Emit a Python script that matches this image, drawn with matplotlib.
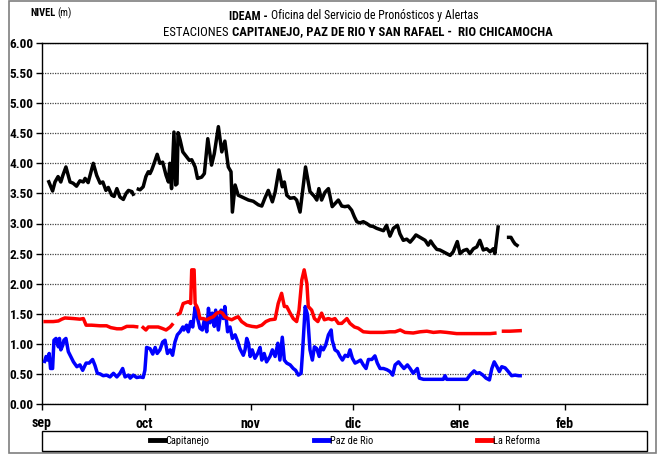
import numpy as np
import matplotlib
matplotlib.use("Agg")
import matplotlib.pyplot as plt
from matplotlib.patches import Rectangle
from matplotlib.lines import Line2D
from matplotlib import font_manager

# ---------------- data (day offset from 1 Sep, level in m) ----------------
months = ["sep", "oct", "nov", "dic", "ene", "feb"]
month_days = [0, 30, 61, 91, 122, 153]

cap_day = [1.8, 3.1, 3.8, 4.7, 5.5, 6.1, 7.0, 8.2, 9.1, 10.1, 11.1, 12.1, 12.6, 13.5, 15.0, 16.0,
           17.0, 17.8, 18.7, 19.4, 20.4, 21.1, 21.9, 22.8, 23.8, 24.6, 25.3, 26.3, 26.9, 27.3,
           27.7, 28.7, 29.6, 30.4, 31.1, 31.6, 32.1, 32.8, 33.7, 34.5, 35.3, 36.3, 37.0, 37.4,
           37.9, 38.6, 39.1, 39.5, 39.8, 40.4, 41.2, 42.3, 43.1, 43.8, 44.8, 45.5, 46.7, 47.5,
           48.5, 49.6, 50.4, 51.6, 52.6, 53.5, 54.5, 55.3, 55.7, 56.5, 57.4, 58.9, 60.4, 61.8,
           63.3, 64.3, 65.2, 66.2, 67.4, 68.2, 69.3, 70.3, 70.9, 71.6, 72.6, 73.8, 74.5, 75.5,
           77.1, 78.4, 79.7, 80.4, 81.0, 81.8, 82.8, 83.8, 84.9, 85.7, 86.7, 87.7, 88.6, 89.6,
           90.6, 91.4, 92.1, 93.0, 94.0, 95.0, 96.0, 96.9, 97.9, 98.9, 99.9, 100.8, 101.8, 102.8,
           104.0, 104.7, 105.7, 106.7, 107.7, 108.6, 109.4, 110.6, 112.1, 113.0, 113.7, 114.5,
           115.5, 116.4, 117.4, 118.4, 119.4, 120.3, 121.5, 122.3, 123.3, 124.3, 125.2, 126.2,
           127.2, 128.1, 129.1, 130.1, 131.1, 132.0, 132.5, 133.5, 134.5, 136.0, 137.2, 137.9,
           138.4, 139.4]
cap_val = [3.72, 3.54, 3.69, 3.78, 3.69, 3.80, 3.94, 3.69, 3.67, 3.62, 3.71, 3.69, 3.75, 3.68, 4.00, 3.80,
           3.67, 3.69, 3.55, 3.60, 3.47, 3.45, 3.58, 3.44, 3.40, 3.50, 3.55, 3.53, 3.46, np.nan,
           3.58, 3.56, 3.61, 3.78, 3.86, 3.83, 3.89, 4.00, 4.15, 4.00, 4.02, 3.80, 3.69, 4.00,
           3.58, 4.52, 3.64, 3.66, 4.51, 4.39, 4.19, 4.11, 4.05, 4.06, 3.94, 3.75, 3.77, 3.83,
           4.41, 3.97, 4.16, 4.61, 4.19, 4.37, 3.94, 3.86, 3.19, 3.64, 3.47, 3.43, 3.39, 3.37,
           3.31, 3.29, 3.42, 3.55, 3.36, 3.52, 3.89, 3.61, 3.69, 3.47, 3.42, 3.43, 3.39, 3.19,
           3.94, 3.53, 3.45, 3.39, 3.58, 3.39, 3.52, 3.58, 3.28, 3.33, 3.39, 3.29, 3.28, 3.29,
           3.22, 3.11, 3.03, 3.01, 3.03, 3.00, 2.96, 2.95, 2.92, 2.90, 2.88, 2.97, 2.79, 2.92,
           2.97, 2.83, 2.72, 2.74, 2.69, 2.75, 2.81, 2.77, 2.72, 2.64, 2.71, 2.64,
           2.57, 2.56, 2.53, 2.50, 2.47, 2.53, 2.70, 2.50, 2.55, 2.57, 2.50, 2.58,
           2.61, 2.72, 2.56, 2.58, 2.53, 2.58, 2.50, 2.97, np.nan, 2.77, 2.77, 2.70,
           2.66, 2.62]

paz_day = [0.6, 1.2, 1.6, 2.1, 2.5, 3.1, 3.5, 4.1, 4.8, 5.1, 5.5, 6.1, 6.4, 7.0, 7.7, 8.4, 9.2, 10.2,
           11.1, 11.9, 12.9, 13.8, 14.8, 15.5, 16.2, 17.0, 17.9, 18.9, 19.9, 20.9, 21.9, 22.8, 23.6,
           24.3, 25.3, 25.8, 26.7, 27.7, 28.7, 29.6, 30.1, 30.6, 31.6, 32.4, 33.1, 33.7, 34.5, 35.3,
           36.0, 36.7, 37.5, 38.2, 38.9, 39.6, 40.4, 41.2, 41.5, 42.3, 42.8, 43.5, 44.1, 44.8, 45.4,
           46.2, 46.9, 47.5, 48.2, 48.7, 49.2, 49.8, 50.4, 50.8, 51.6, 52.4, 53.0, 53.5, 54.3, 55.0,
           55.7, 56.5, 57.3, 57.9, 58.9, 59.4, 59.9, 60.4, 60.9, 61.5, 62.3, 63.1, 63.8, 64.3, 65.0,
           65.7, 66.7, 67.4, 68.2, 69.0, 69.6, 70.3, 70.9, 71.6, 72.6, 73.5, 74.2, 75.0, 75.8, 76.2,
           77.0, 77.7, 78.4, 79.1, 79.7, 80.4, 81.1, 81.6, 82.3, 83.0, 83.8, 84.6, 84.9, 85.7, 86.5,
           87.2, 87.9, 88.7, 89.5, 90.1, 90.8, 91.6, 92.3, 93.2, 94.0, 94.8, 95.5, 96.5, 97.4, 98.1,
           98.9, 99.9, 100.9, 101.8, 102.6, 103.3, 104.3, 105.0, 105.9, 106.9, 107.7, 108.6, 109.8,
           110.4, 111.6, 117.4, 117.9, 118.4, 124.3, 125.2, 126.4, 127.2, 128.0, 129.0, 129.9, 130.9,
           131.6, 132.3, 133.1, 133.8, 134.5, 135.5, 136.4, 137.4, 138.4, 139.4, 140.4]
paz_val = [0.68, 0.79, 0.73, 0.84, 0.59, 0.59, 1.06, 1.09, 0.95, 1.09, 0.90, 0.98, 1.06, 1.09, 0.87, 0.79, 0.70, 0.62,
           0.65, 0.56, 0.68, 0.68, 0.74, 0.64, 0.51, 0.50, 0.47, 0.48, 0.45, 0.51, 0.45, 0.51, 0.59,
           0.45, 0.48, 0.43, 0.48, 0.44, 0.45, 0.44, 0.56, 0.94, 0.92, 0.83, 0.94, 0.84, 0.90, 1.03,
           1.06, 0.84, 0.90, 0.81, 1.03, 1.15, 1.20, 1.28, 1.23, 1.31, 1.20, 1.37, 1.28, 1.61, 1.45,
           1.26, 1.23, 1.40, 1.20, 1.59, 1.35, 1.51, 1.29, 1.56, 1.23, 1.56, 1.42, 1.62, 1.20, 1.28,
           1.09, 1.15, 1.03, 0.92, 0.81, 0.90, 1.09, 1.01, 0.79, 0.90, 0.76, 0.84, 0.94, 0.73, 0.84,
           0.70, 0.79, 0.90, 0.79, 1.01, 0.73, 1.11, 0.73, 0.68, 0.65, 0.59, 0.56, 0.48, 0.51, 0.84,
           1.62, 1.48, 0.90, 0.73, 0.95, 0.92, 0.79, 0.95, 0.90, 0.98, 1.15, 1.23, 1.06, 0.90, 0.87,
           0.79, 0.73, 0.81, 0.79, 0.90, 0.76, 0.68, 0.70, 0.73, 0.65, 0.59, 0.74, 0.74, 0.80, 0.68,
           0.59, 0.59, 0.57, 0.54, 0.48, 0.65, 0.70, 0.65, 0.59, 0.65, 0.59, 0.51, 0.59,
           0.43, 0.41, 0.41, 0.47, 0.41, 0.41, 0.48, 0.55, 0.51, 0.52, 0.48, 0.43, 0.40,
           0.59, 0.70, 0.62, 0.54, 0.62, 0.60, 0.54, 0.47, 0.48, 0.47, 0.47]

ref_day = [0.4, 3.3, 4.8, 5.8, 6.7, 9.2, 11.1, 12.1, 12.9, 14.5, 17.0, 18.9, 20.1, 21.9, 23.3, 24.8,
           26.7, 28.2, 28.7, 29.2, 30.4, 31.1, 32.6, 34.0, 35.0, 36.3, 37.5, 38.4, 38.9, 39.4, 40.4,
           41.3, 42.8, 43.5, 43.8, 44.5, 44.8, 45.3, 45.7, 46.2, 47.2, 48.2, 49.2, 50.1, 51.1, 52.1,
           52.8, 53.5, 54.5, 55.5, 56.5, 57.4, 58.4, 59.9, 61.4, 62.8, 64.3, 65.5, 66.7, 68.2, 69.1,
           70.1, 70.9, 71.6, 72.6, 73.5, 74.5, 75.2, 76.0, 76.7, 77.5, 77.9, 78.9, 79.7, 80.7, 81.8,
           82.6, 83.8, 84.8, 85.7, 86.7, 87.7, 89.2, 90.1, 91.4, 92.5, 93.0, 94.0, 96.0, 97.9, 99.9,
           101.8, 103.3, 104.8, 106.2, 108.6, 110.6, 112.6, 114.5, 116.5, 118.4, 121.3, 125.2, 128.1,
           131.1, 133.0, 133.7, 134.5, 136.9, 140.4]
ref_val = [1.37, 1.37, 1.38, 1.41, 1.43, 1.42, 1.41, 1.42, 1.31, 1.31, 1.30, 1.30, 1.27, 1.25, 1.25, 1.29,
           1.29, 1.28, np.nan, 1.29, 1.23, 1.28, 1.28, 1.28, 1.26, 1.23, 1.28, 1.34, np.nan, 1.48, 1.51,
           1.67, 1.70, 1.67, 2.23, 2.23, 1.67, 1.62, 1.56, 1.42, 1.42, 1.40, 1.43, 1.45, 1.51, 1.53,
           1.51, 1.45, 1.42, 1.40, 1.43, 1.45, 1.37, 1.31, 1.29, 1.28, 1.31, 1.37, 1.40, 1.41, 1.67,
           1.84, 1.62, 1.62, 1.51, 1.42, 1.37, 1.56, 2.06, 2.23, 2.00, 1.62, 1.56, 1.42, 1.37, 1.51,
           1.40, 1.42, 1.40, 1.42, 1.34, 1.34, 1.42, 1.34, 1.28, 1.26, 1.24, 1.20, 1.19, 1.19, 1.19,
           1.20, 1.20, 1.23, 1.19, 1.18, 1.20, 1.21, 1.19, 1.20, 1.19, 1.17, 1.17, 1.17,
           1.17, 1.18, np.nan, 1.21, 1.21, 1.22]

series_names = ["Capitanejo", "Paz de Rio", "La Reforma"]
series_colors = ["black", "#0000FF", "#FF0000"]

# ---------------- fonts (narrow sans, like Arial Narrow) ----------------
fl = font_manager.fontManager.ttflist


def has_bold(name):
    return any(f.name == name and f.weight in (600, 700, 800, "bold", "semibold") for f in fl) and \
        any(f.name == name and f.weight in (400, "normal", "regular") for f in fl)


FAM = None
for cand in ["Liberation Sans Narrow", "Arial Narrow", "Roboto Condensed", "PT Sans Narrow",
             "Archivo Narrow", "Barlow Semi Condensed", "Liberation Sans"]:
    if has_bold(cand):
        FAM = cand
        break
if FAM is None:
    FAM = "DejaVu Sans"
plt.rcParams["font.family"] = [FAM, "DejaVu Sans"]

W, H = 659, 455
fig = plt.figure(figsize=(W / 100, H / 100), dpi=100)
fig.patch.set_facecolor("white")


def fx(px):
    return px / W


def fy(py):
    return 1 - py / H


ax = fig.add_axes([fx(42), fy(404), fx(647) - fx(42), fy(43) - fy(404)])

for d, v, c, n in zip([cap_day, paz_day, ref_day], [cap_val, paz_val, ref_val], series_colors, series_names):
    ax.plot(d, v, color=c, lw=2.5, label=n, solid_joinstyle="round", solid_capstyle="butt", zorder=3)

ax.set_xlim(0, 177)
ax.set_ylim(0, 6)
yt = np.arange(0, 6.01, 0.5)
ax.set_yticks(yt)
ax.set_yticklabels([f"{v:.2f}" for v in yt], fontsize=9.5, fontweight="bold")
ax.set_xticks(month_days)
ax.set_xticklabels(months, fontsize=10, fontweight="bold")
ax.tick_params(axis="both", direction="out", length=4, width=1, color="black")
ax.tick_params(axis="x", pad=5)
ax.tick_params(axis="y", pad=2)
ax.yaxis.grid(True, linestyle=(0, (1, 1)), color="#444444", lw=0.9)
ax.set_axisbelow(True)
for s in ax.spines.values():
    s.set_color("black")
    s.set_linewidth(1.0)

# outer frame
fig.patches.append(Rectangle((fx(9), fy(453)), fx(656) - fx(9), fy(1) - fy(453),
                             transform=fig.transFigure, fill=False, edgecolor="#7f7f7f", lw=1.2))

# legend box
fig.patches.append(Rectangle((fx(42), fy(451)), fx(647) - fx(42), fy(431) - fy(451),
                             transform=fig.transFigure, fill=False, edgecolor="black", lw=1.0))
handles = [Line2D([], [], color=c, lw=3.5) for c in series_colors]
fig.legend(handles, series_names, loc="center", bbox_to_anchor=(fx(345), fy(441)),
           ncol=3, frameon=False, fontsize=7.5, handlelength=1.4, handletextpad=0.1,
           columnspacing=10.0, borderpad=0)

# ---------------- rich text lines ----------------
fig.canvas.draw()
renderer = fig.canvas.get_renderer()


def rich_line(parts, left_px, right_px, yc_px, base=9.0, max_size=None):
    txts = []
    for s, w in parts:
        t = fig.text(0, fy(yc_px), s, fontsize=base, fontweight=w, va="center", ha="left")
        txts.append(t)
    fig.canvas.draw()
    widths = [t.get_window_extent(renderer).width for t in txts]
    gap = 0.25 * base * 100 / 72
    total = sum(widths) + gap * (len(parts) - 1)
    scale = (right_px - left_px) / total
    if max_size is not None:
        scale = min(scale, max_size / base)
    center = (left_px + right_px) / 2
    x = center - total * scale / 2
    for t, wdt in zip(txts, widths):
        t.set_fontsize(base * scale)
        t.set_x(fx(x))
        x += wdt * scale + gap * scale


rich_line([("NIVEL", "bold"), ("(m)", "normal")], 30, 72, 13, base=7, max_size=8)
rich_line([("IDEAM -", "bold"), ("Oficina del Servicio de Pronósticos y Alertas", "normal")],
          229, 480, 16, max_size=10.5)
rich_line([("ESTACIONES", "normal"), ("CAPITANEJO, PAZ DE RIO Y SAN RAFAEL -  RIO CHICAMOCHA", "bold")],
          163, 553, 32, max_size=10.5)

fig.savefig("out.png", dpi=100, facecolor="white")
